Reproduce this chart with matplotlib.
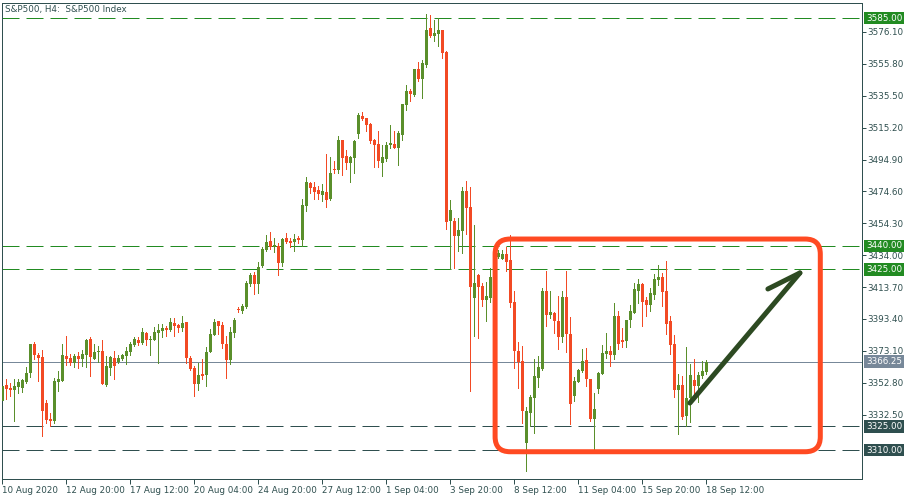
import matplotlib
matplotlib.use("Agg")
import matplotlib.pyplot as plt
import matplotlib.transforms as mtransforms
from matplotlib.patches import FancyBboxPatch

# S&P500 H4 candles, 10 Aug 2020 -> 18 Sep 2020
opens = [
    3341.4, 3351.4, 3349.7, 3348.4, 3349.9, 3349.7, 3353.3, 3359.2, 3377.5, 3370.5,
    3369.0, 3339.7, 3329.9, 3328.7, 3353.5, 3353.9, 3369.8, 3368.4, 3365.6, 3369.8,
    3367.9, 3370.7, 3380.6, 3367.9, 3372.6, 3373.0, 3351.4, 3362.4, 3368.4, 3365.9,
    3367.9, 3370.0, 3372.6, 3377.1, 3380.0, 3378.3, 3384.7, 3380.2, 3380.0, 3384.7,
    3385.8, 3387.7, 3386.4, 3391.0, 3389.6, 3387.9, 3391.5, 3368.8, 3362.4, 3352.2,
    3358.4, 3357.7, 3372.4, 3383.3, 3392.1, 3389.6, 3377.7, 3367.3, 3384.7, 3399.6,
    3398.5, 3401.2, 3415.7, 3421.4, 3415.7, 3427.1, 3437.5, 3443.0, 3439.2, 3439.9,
    3429.2, 3444.9, 3443.1, 3442.4, 3445.2, 3443.7, 3465.5, 3480.0, 3477.4, 3475.5,
    3472.5, 3474.2, 3469.5, 3489.1, 3488.4, 3507.3, 3497.2, 3492.9, 3496.1, 3511.4,
    3522.6, 3521.3, 3517.5, 3507.3, 3504.8, 3492.9, 3495.4, 3504.2, 3504.8, 3502.5,
    3510.5, 3529.8, 3538.5, 3536.2, 3552.5, 3546.4, 3555.3, 3578.6, 3573.5, 3575.0,
    3577.4, 3563.6, 3455.5, 3455.8, 3446.4, 3449.6, 3474.9, 3464.7, 3407.0, 3421.3,
    3414.5, 3405.5, 3406.8, 3420.2, 3432.7, 3431.8, 3434.8, 3431.1, 3404.0, 3373.0,
    3366.6, 3314.6, 3333.7, 3343.3, 3356.0, 3361.5, 3411.2, 3395.9, 3397.4, 3392.1,
    3382.2, 3407.6, 3383.7, 3344.4, 3353.5, 3360.5, 3367.3, 3355.0, 3329.7, 3348.8,
    3358.6, 3371.3, 3373.0, 3370.7, 3395.3, 3380.2, 3379.6, 3392.8, 3397.4, 3411.2,
    3415.7, 3405.5, 3402.3, 3408.7, 3418.3, 3420.0, 3411.2, 3392.1, 3377.5, 3348.2,
    3351.4, 3331.6, 3343.3, 3354.6, 3350.7, 3357.1, 3359.8,
]
highs = [
    3352.0, 3355.2, 3352.7, 3355.2, 3355.2, 3355.2, 3362.6, 3377.5, 3378.8, 3371.8,
    3373.9, 3341.8, 3333.7, 3356.0, 3360.5, 3377.5, 3382.6, 3371.1, 3371.1, 3372.4,
    3373.7, 3380.6, 3381.7, 3377.5, 3376.2, 3380.0, 3369.7, 3369.7, 3373.0, 3370.5,
    3371.1, 3375.4, 3378.8, 3382.2, 3382.2, 3387.7, 3385.3, 3382.6, 3388.3, 3390.0,
    3390.0, 3389.0, 3393.8, 3393.8, 3390.0, 3395.3, 3391.5, 3369.8, 3363.5, 3365.2,
    3367.9, 3375.4, 3387.1, 3393.6, 3392.1, 3391.5, 3382.6, 3388.5, 3393.8, 3401.1,
    3402.9, 3417.5, 3422.9, 3423.5, 3429.9, 3439.2, 3446.7, 3448.9, 3444.9, 3441.5,
    3444.9, 3448.1, 3444.9, 3447.5, 3446.4, 3469.6, 3483.8, 3480.6, 3480.6, 3478.0,
    3479.5, 3498.4, 3496.5, 3494.0, 3510.1, 3507.3, 3501.0, 3497.2, 3507.3, 3524.5,
    3525.2, 3521.3, 3518.2, 3507.9, 3513.1, 3504.2, 3506.0, 3516.9, 3513.1, 3513.1,
    3530.3, 3542.3, 3539.8, 3552.5, 3557.0, 3558.3, 3587.5, 3586.9, 3583.7, 3585.0,
    3577.4, 3564.2, 3469.1, 3457.9, 3457.5, 3477.6, 3481.2, 3477.6, 3453.2, 3421.9,
    3416.6, 3417.2, 3425.6, 3437.3, 3437.3, 3437.3, 3439.4, 3446.9, 3411.4, 3379.0,
    3376.2, 3337.4, 3344.8, 3367.9, 3369.8, 3412.9, 3424.0, 3411.2, 3398.0, 3408.0,
    3411.2, 3424.0, 3394.7, 3356.7, 3361.4, 3374.3, 3374.7, 3355.4, 3346.1, 3359.8,
    3376.8, 3384.3, 3376.2, 3403.4, 3398.5, 3387.5, 3392.8, 3402.3, 3416.3, 3418.9,
    3416.1, 3407.6, 3412.9, 3421.9, 3427.8, 3422.5, 3430.4, 3395.3, 3383.3, 3358.2,
    3357.1, 3375.6, 3364.7, 3367.9, 3359.4, 3366.6, 3367.3,
]
lows = [
    3339.9, 3342.7, 3344.6, 3328.7, 3346.5, 3347.1, 3352.7, 3356.7, 3367.7, 3354.1,
    3319.1, 3327.0, 3325.5, 3327.0, 3347.7, 3353.9, 3364.1, 3364.1, 3363.0, 3362.4,
    3363.5, 3363.0, 3357.3, 3367.9, 3366.2, 3352.2, 3350.9, 3357.9, 3355.2, 3365.2,
    3367.3, 3364.6, 3370.3, 3376.2, 3376.6, 3377.3, 3376.6, 3370.5, 3380.0, 3365.2,
    3382.2, 3382.8, 3386.0, 3382.8, 3385.4, 3385.6, 3365.2, 3360.9, 3344.6, 3348.2,
    3355.2, 3350.7, 3372.4, 3383.3, 3383.9, 3375.0, 3356.1, 3364.6, 3382.2, 3397.7,
    3397.1, 3400.6, 3414.6, 3409.3, 3409.7, 3426.3, 3436.9, 3437.9, 3436.2, 3421.4,
    3427.1, 3441.8, 3439.4, 3436.7, 3441.5, 3440.0, 3462.1, 3473.8, 3469.9, 3469.9,
    3468.5, 3464.9, 3469.1, 3486.5, 3486.5, 3485.2, 3489.1, 3480.8, 3486.5, 3508.9,
    3520.1, 3513.3, 3505.6, 3490.4, 3490.4, 3484.6, 3494.1, 3502.0, 3502.0, 3491.6,
    3507.3, 3526.6, 3532.2, 3535.5, 3545.1, 3534.3, 3554.0, 3572.9, 3570.5, 3567.4,
    3559.7, 3450.9, 3425.0, 3426.0, 3436.7, 3435.6, 3447.3, 3347.8, 3382.6, 3381.2,
    3401.9, 3392.1, 3404.4, 3418.3, 3432.0, 3431.4, 3424.1, 3401.2, 3362.0, 3349.7,
    3327.0, 3296.6, 3325.5, 3321.1, 3350.0, 3360.9, 3388.9, 3394.0, 3384.2, 3374.3,
    3378.5, 3372.2, 3326.6, 3341.4, 3353.5, 3359.8, 3350.9, 3328.7, 3308.9, 3346.5,
    3358.2, 3368.8, 3363.7, 3367.7, 3374.1, 3375.7, 3375.7, 3388.3, 3397.0, 3403.4,
    3388.9, 3395.1, 3398.7, 3406.0, 3415.1, 3401.9, 3384.1, 3371.4, 3344.0, 3320.0,
    3329.7, 3325.5, 3328.0, 3345.0, 3340.7, 3356.0, 3358.2,
]
closes = [
    3350.7, 3349.0, 3348.4, 3350.7, 3353.3, 3354.6, 3359.0, 3377.5, 3370.3, 3368.8,
    3335.0, 3329.3, 3328.7, 3353.9, 3355.2, 3370.5, 3367.9, 3365.6, 3369.8, 3367.9,
    3371.1, 3380.0, 3369.4, 3372.4, 3373.0, 3352.2, 3363.5, 3369.0, 3363.7, 3368.4,
    3370.5, 3373.0, 3377.7, 3380.6, 3378.3, 3385.1, 3380.0, 3380.6, 3385.1, 3386.4,
    3387.7, 3386.4, 3391.5, 3389.1, 3387.9, 3391.0, 3368.8, 3361.7, 3352.2, 3357.7,
    3357.1, 3372.4, 3383.9, 3391.5, 3389.1, 3377.7, 3367.1, 3385.1, 3392.8, 3399.0,
    3401.6, 3416.5, 3421.4, 3415.7, 3426.7, 3437.9, 3442.2, 3439.4, 3440.3, 3429.2,
    3444.3, 3442.4, 3441.8, 3444.5, 3443.7, 3466.0, 3480.6, 3477.0, 3474.2, 3472.9,
    3474.9, 3469.3, 3486.3, 3488.4, 3507.3, 3496.1, 3492.9, 3496.5, 3506.7, 3523.3,
    3520.7, 3517.1, 3506.9, 3504.3, 3493.7, 3496.5, 3504.2, 3505.4, 3502.3, 3511.8,
    3530.3, 3538.5, 3536.8, 3552.5, 3546.4, 3556.4, 3577.4, 3573.5, 3575.4, 3577.4,
    3562.9, 3455.1, 3462.8, 3446.1, 3450.1, 3474.9, 3464.2, 3413.6, 3416.6, 3413.6,
    3405.5, 3408.0, 3420.2, 3432.2, 3435.2, 3434.8, 3429.9, 3403.8, 3373.0, 3365.8,
    3335.0, 3334.8, 3343.9, 3357.1, 3363.0, 3411.2, 3395.9, 3397.8, 3392.3, 3382.2,
    3407.6, 3383.7, 3339.3, 3353.9, 3360.9, 3366.6, 3355.0, 3329.7, 3336.1, 3359.2,
    3371.6, 3373.0, 3370.7, 3395.3, 3377.5, 3378.9, 3392.8, 3398.5, 3412.5, 3415.7,
    3404.4, 3402.3, 3410.0, 3418.9, 3420.4, 3410.6, 3390.2, 3376.9, 3348.2, 3351.4,
    3331.2, 3343.3, 3357.7, 3350.7, 3357.7, 3360.5, 3366.25,
]

date_labels = ["10 Aug 2020", "12 Aug 20:00", "17 Aug 12:00", "20 Aug 04:00",
               "24 Aug 20:00", "27 Aug 12:00", "1 Sep 04:00", "3 Sep 20:00",
               "8 Sep 12:00", "11 Sep 04:00", "15 Sep 20:00", "18 Sep 12:00"]
price_ticks = [3332.50, 3352.80, 3373.10, 3393.40, 3413.70, 3434.00, 3454.30,
               3474.60, 3494.90, 3515.20, 3535.50, 3555.80, 3576.10]
green_levels = [3585.00, 3440.00, 3425.00]
dark_levels = [3325.00, 3310.00]
last_price = 3366.25

UP = "#5A8F2B"
DOWN = "#F24A24"
SLATE = "#2F4F4F"
LEVEL_GREEN = "#228B22"
PX = 0.72  # one pixel in points at dpi 100

fig = plt.figure(figsize=(9.15, 5.0), dpi=100)
ax = fig.add_axes([2 / 915, 21 / 500, 860 / 915, 476 / 500])

n = len(opens)
xs = list(range(n))
colors = [UP if c >= o else DOWN for o, c in zip(opens, closes)]
bottoms = [min(o, c) for o, c in zip(opens, closes)]
heights = [max(abs(c - o), 0.65) for o, c in zip(opens, closes)]

# levels first so candles sit on top
for lv in green_levels:
    ax.axhline(lv, color=LEVEL_GREEN, lw=PX, linestyle=(0, (17, 7)), zorder=1)
for lv in dark_levels:
    ax.axhline(lv, color=SLATE, lw=PX, linestyle=(0, (17, 7)), zorder=1)
ax.axhline(last_price, color="#778899", lw=PX, zorder=1)

ax.vlines(xs, lows, highs, colors=colors, linewidth=PX, antialiased=False, zorder=2)
ax.bar(xs, heights, width=0.75, bottom=bottoms, color=colors, linewidth=0,
       antialiased=False, zorder=3)

ax.set_xlim(-0.075, 214.925)
ax.set_ylim(3291.54, 3594.55)

# highlighted box + hand-drawn arrow
box = FancyBboxPatch((123.2, 3308.9), 81.3, 135.4,
                     boxstyle="round,pad=0,rounding_size=3.75",
                     mutation_aspect=2.546, fill=False, ec="#FF4A22",
                     lw=5 * PX, zorder=5)
ax.add_patch(box)
ax.plot([171.9, 199.4], [3339.9, 3422.7], color="#2D4A22", lw=5 * PX,
        solid_capstyle="round", zorder=6)
ax.plot([191.4, 199.4], [3412.5, 3422.7], color="#2D4A22", lw=5 * PX,
        solid_capstyle="round", zorder=6)

# axes styling (MetaTrader look)
for sp in ax.spines.values():
    sp.set_color(SLATE)
    sp.set_linewidth(PX)

ax.yaxis.tick_right()
ax.set_yticks(price_ticks)
ax.set_yticklabels([f"{v:.2f}" for v in price_ticks])
ax.tick_params(axis="y", direction="out", length=3, width=PX, colors=SLATE,
               labelsize=6.3, pad=1)

ax.set_xticks(range(0, n, 16))
ax.set_xticklabels(date_labels)
ax.tick_params(axis="x", direction="out", length=3.5, width=PX, colors=SLATE,
               labelsize=6.3, pad=1.5)
for lab in ax.get_xticklabels():
    lab.set_horizontalalignment("left")

trans = mtransforms.blended_transform_factory(ax.transAxes, ax.transData)
labels = [(lv, LEVEL_GREEN) for lv in green_levels] + \
         [(lv, SLATE) for lv in dark_levels] + [(last_price, "#778899")]
for lv, bg in labels:
    ax.text(1.0047, lv, f"{lv:.2f}", transform=trans, color="white", fontsize=6.3,
            va="center", ha="left", zorder=7, clip_on=False,
            bbox=dict(boxstyle="square,pad=0.2", fc=bg, ec="none"))

ax.text(0.0035, 0.986, "S&P500, H4:  S&P500 Index", transform=ax.transAxes,
        fontsize=6.3, color=SLATE, va="center", ha="left")

fig.savefig("out.png", dpi=100)
plt.close(fig)
